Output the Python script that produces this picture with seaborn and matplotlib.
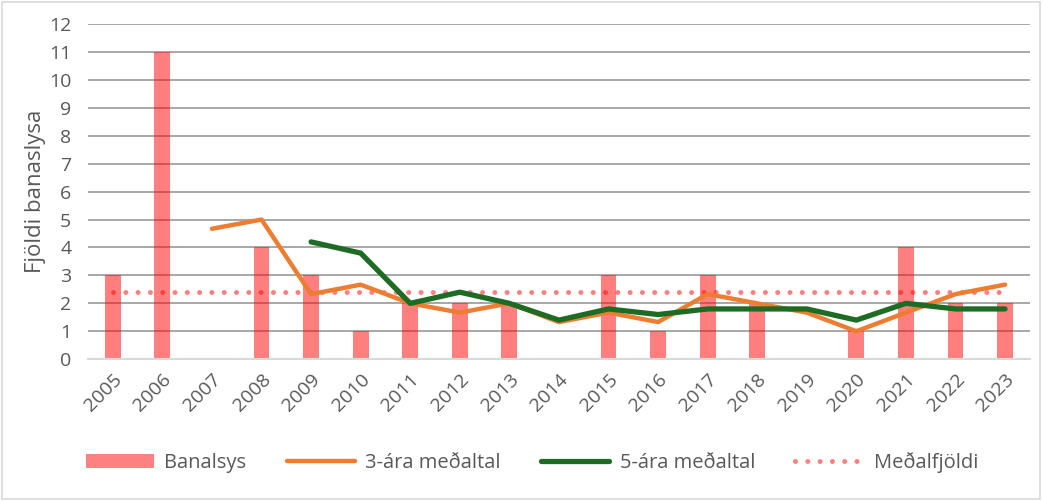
import numpy as np
import pandas as pd
import matplotlib.pyplot as plt
import seaborn as sns
from matplotlib.patches import Rectangle, Patch
from matplotlib.lines import Line2D

# Data
years = [str(y) for y in range(2005, 2024)]
banalsys = [3, 11, 0, 4, 3, 1, 2, 2, 2, 0, 3, 1, 3, 2, 0, 1, 4, 2, 2]
avg3 = [np.nan, np.nan, 4.67, 5.0, 2.33, 2.67, 2.0, 1.67, 2.0, 1.33,
        1.67, 1.33, 2.33, 2.0, 1.67, 1.0, 1.67, 2.33, 2.67]
avg5 = [np.nan, np.nan, np.nan, np.nan, 4.2, 3.8, 2.0, 2.4, 2.0, 1.4,
        1.8, 1.6, 1.8, 1.8, 1.8, 1.4, 2.0, 1.8, 1.8]
medal = 2.42

df = pd.DataFrame({'year': years, 'pos': range(len(years)),
                   'banalsys': banalsys, 'avg3': avg3, 'avg5': avg5})
df['medal'] = medal

sns.set_style('white')
plt.rcParams['font.family'] = ['Open Sans', 'DejaVu Sans']
txt = '#595959'
bar_c = '#FF8080'
orange = '#ED7D31'
green = '#1E6B24'

fig = plt.figure(figsize=(10.43, 5.01), dpi=100)
ax = fig.add_axes([0.0844, 0.283, 0.903, 0.669])

ax.set_axisbelow(True)
ax.yaxis.grid(True, color='#A0A0A0', linewidth=1.3)

sns.barplot(data=df, x='year', y='banalsys', color='#FF0000', alpha=0.5,
            width=0.32, saturation=1, linewidth=0, ax=ax)
sns.lineplot(data=df, x='pos', y='medal', color='#FF0000', alpha=0.5,
             linewidth=3.6, ax=ax)
ax.lines[-1].set_linestyle((0, (0.01, 2.45)))
ax.lines[-1].set_dash_capstyle('round')
sns.lineplot(data=df, x='pos', y='avg3', color=orange, linewidth=3.2, ax=ax)
sns.lineplot(data=df, x='pos', y='avg5', color=green, linewidth=3.8, ax=ax)

ax.set_xlim(-0.5, len(years) - 0.5)
ax.set_ylim(0, 12)
ax.set_yticks(range(0, 13))
ax.set_xticks(range(len(years)))
ax.set_xticklabels(years, rotation=45, ha='right', rotation_mode='anchor')
ax.tick_params(axis='both', colors=txt, labelsize=14, length=0)
ax.tick_params(axis='x', pad=8)
ax.tick_params(axis='y', pad=12)
ax.set_xlabel('')
ax.set_ylabel('Fjöldi banaslysa', fontsize=16, color=txt, labelpad=2)
for s in ['top', 'right', 'left']:
    ax.spines[s].set_visible(False)
ax.spines['bottom'].set_color('#D9D9D9')
ax.spines['bottom'].set_linewidth(1.5)

handles = [Patch(facecolor=bar_c, edgecolor='none'),
           Line2D([], [], color=orange, linewidth=3.2, solid_capstyle='round'),
           Line2D([], [], color=green, linewidth=3.8, solid_capstyle='round'),
           Line2D([], [], color='#FF0000', alpha=0.5, linewidth=3.6,
                  linestyle=(0, (0.01, 2.45)), dash_capstyle='round')]
labels = ['Banalsys', '3-ára meðaltal', '5-ára meðaltal', 'Meðalfjöldi']
leg = fig.legend(handles, labels, loc='center', bbox_to_anchor=(0.51, 0.076),
                 ncol=4, frameon=False, fontsize=14.5, handlelength=3.4,
                 columnspacing=2.0, handletextpad=0.5)
for t in leg.get_texts():
    t.set_color(txt)

fig.patches.append(Rectangle((0.002, 0.003), 0.995, 0.993, transform=fig.transFigure,
                             fill=False, edgecolor='#D9D9D9', linewidth=1.2))

fig.savefig('out.png', dpi=100)
